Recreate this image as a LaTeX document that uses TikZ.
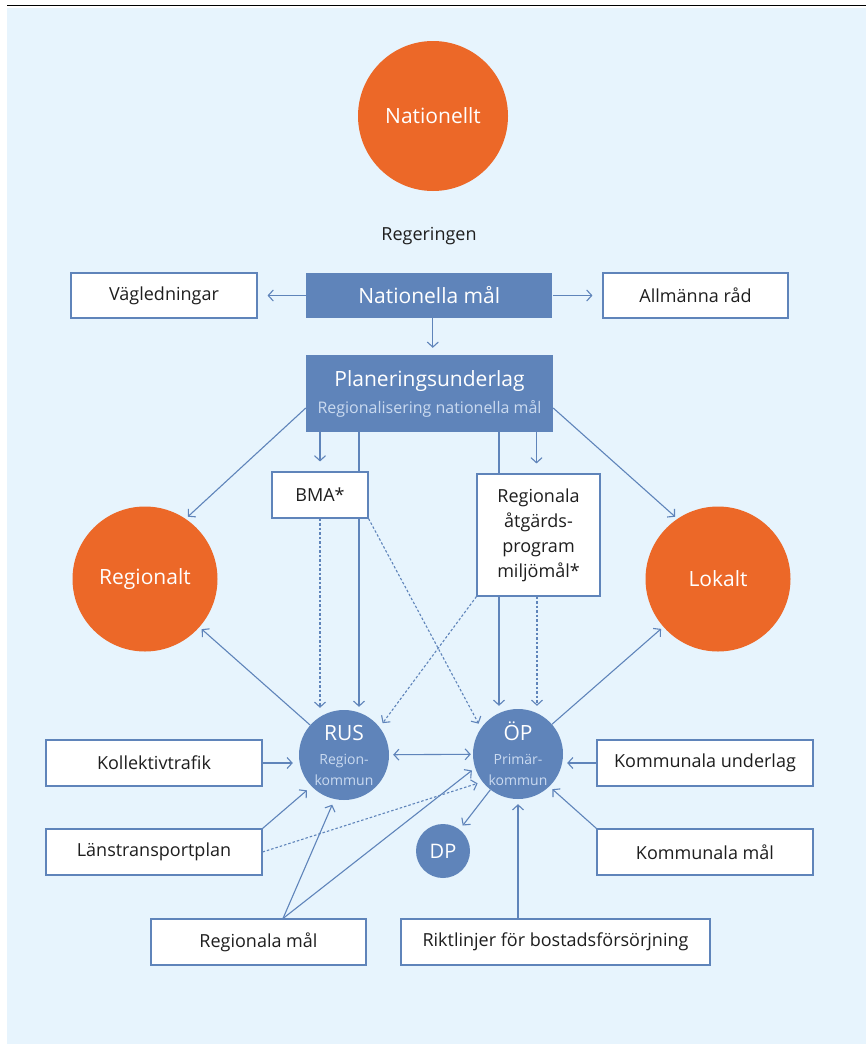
\documentclass[tikz,border=0pt]{standalone}
\usepackage{fontspec}
\setmainfont{Open Sans}
\usetikzlibrary{arrows.meta}
\definecolor{bl}{HTML}{5F84BA}
\definecolor{bglt}{HTML}{E7F4FD}
\definecolor{org}{HTML}{EC6828}
\definecolor{ltxt}{HTML}{CADAF0}
\definecolor{txt}{HTML}{1E1E1E}
\begin{document}
\begin{tikzpicture}[x=1pt,y=-1pt,
  wbox/.style={draw=bl, fill=white, line width=1.1pt, inner sep=0pt, text=txt, font=\fontsize{18}{25}\selectfont, align=center},
  bbox/.style={fill=bl, inner sep=0pt, text=white, align=center},
  orc/.style={circle, fill=org, inner sep=0pt, text=white, font=\fontsize{21}{25}\selectfont},
  blc/.style={circle, fill=bl, inner sep=0pt, text=white, align=center},
  con/.style={draw=bl, line width=1.1pt},
  arr/.style={con, -{Straight Barb[length=5pt,width=11pt]}},
  dot/.style={dash pattern=on 2.5pt off 2pt},
]
\useasboundingbox (0,0) rectangle (866,1044);
\fill[bglt] (7,8) rectangle (866,1044);
\draw[line width=1.6pt] (7,5.5) -- (866,5.5);

% nodes
\node[orc, minimum size=150pt] (nat) at (433,116) {Nationellt};
\node[text=txt, font=\fontsize{18}{22}\selectfont] (reg) at (429,236) {Regeringen};
\node[bbox, minimum width=246pt, minimum height=45pt, font=\fontsize{21}{25}\selectfont] (nmal) at (429.3,295.5) {Nationella mål};
\node[wbox, minimum width=186pt, minimum height=45pt] (vag) at (164,295.5) {Vägledningar};
\node[wbox, minimum width=185pt, minimum height=45pt] (allm) at (695.5,295.5) {Allmänna råd};
\node[bbox, minimum width=247pt, minimum height=77pt, font=\fontsize{16}{27}\selectfont] (plan) at (429.5,393.5)
  {{\fontsize{21}{27}\selectfont Planeringsunderlag}\\{\color{ltxt}Regionalisering nationella mål}};

\node[orc, minimum size=145pt] (regionalt) at (145,579) {Regionalt};
\node[orc, minimum size=145pt] (lokalt) at (718,579) {Lokalt};

\node[blc, minimum size=90pt, font=\fontsize{14}{21}\selectfont] (rus) at (344,755)
  {{\fontsize{21}{21}\selectfont RUS}\\[3pt]{\color{ltxt}Region-}\\{\color{ltxt}kommun}};
\node[blc, minimum size=90pt, font=\fontsize{14}{21}\selectfont] (op) at (518,754)
  {{\fontsize{21}{21}\selectfont ÖP}\\[3pt]{\color{ltxt}Primär-}\\{\color{ltxt}kommun}};
\node[blc, minimum size=54pt, font=\fontsize{20}{24}\selectfont] (dp) at (443,851) {DP};

% connectors that pass behind boxes
\coordinate (rusin) at ([xshift=15pt]rus.north);
\coordinate (opin) at ([xshift=-19pt]op.north);
\coordinate (opin2) at ([xshift=19pt]op.north);
\draw[arr, shorten >=3pt] (rusin |- plan.south) -- (rusin);
\draw[arr, shorten >=3pt] (opin |- plan.south) -- (opin);

\node[wbox, minimum width=96pt, minimum height=46pt] (bma) at (320,495) {BMA*};
\node[wbox, minimum width=123pt, minimum height=122pt] (atg) at (538.5,535) {Regionala\\åtgärds-\\program\\miljömål*};

\node[wbox, minimum width=216pt, minimum height=46pt] (koll) at (154,763) {Kollektivtrafik};
\node[wbox, minimum width=216pt, minimum height=46pt] (lans) at (154,852) {Länstransportplan};
\node[wbox, minimum width=215pt, minimum height=46pt] (regmal) at (258.5,942) {Regionala mål};
\node[wbox, minimum width=309pt, minimum height=46pt] (rikt) at (555.5,942) {Riktlinjer för bostadsförsörjning};
\node[wbox, minimum width=216pt, minimum height=46pt] (kund) at (705,763) {Kommunala underlag};
\node[wbox, minimum width=216pt, minimum height=46pt] (kmal) at (705,852) {Kommunala mål};

% top connectors
\draw[arr, shorten >=10pt] (nmal.west) -- (vag.east);
\draw[arr, shorten >=10pt] (nmal.east) -- (allm.west);
\coordinate (ndown) at ([xshift=3.5pt]nmal.south);
\draw[arr, shorten >=7pt] (ndown) -- (ndown |- plan.north);
\draw[arr, shorten >=3pt] ([yshift=-14.5pt]plan.west) -- (regionalt.56);
\draw[arr, shorten >=3pt] ([yshift=-14.5pt]plan.east) -- (lokalt.124);
\draw[arr, shorten >=10pt] (bma.north |- plan.south) -- (bma.north);
\coordinate (atgin) at ([xshift=-2pt]atg.north);
\draw[arr, shorten >=10pt] (atgin |- plan.south) -- (atgin);

% dotted
\draw[arr, dot, shorten >=2pt] (bma.south) -- (bma.south |- rus.north);
\draw[arr, dot, shorten >=5pt] (bma.south east) -- (op.145);
\draw[arr, dot, shorten >=3pt] (atg.south -| opin2) -- (opin2);
\draw[arr, dot, shorten >=5pt] (atg.south west) -- (rus.38);
\draw[arr, dot, shorten >=5pt] (lans.east) -- (op.218);

% circles
\draw[arr, shorten >=3pt] (rus) -- (regionalt);
\draw[arr, shorten >=3pt] (op) -- (lokalt);
\draw[con, {Straight Barb[length=5pt,width=11pt]}-{Straight Barb[length=5pt,width=11pt]}, shorten >=2pt, shorten <=4pt] (rus) -- (op);
\draw[arr, shorten >=5pt] (op) -- (dp);

% bottom/left/right
\draw[arr, shorten >=6pt] (koll.east) -- (koll.east -| rus.west);
\draw[arr, shorten >=6pt] (lans.north east) -- (rus.224);
\coordinate (rmtop) at ([xshift=24.5pt]regmal.north);
\draw[arr, shorten >=6pt] (rmtop) -- (rus.258);
\draw[arr, shorten >=4pt] (rmtop) -- (op.198);
\draw[arr, shorten >=5pt] (rikt.north -| op.south) -- (op.south);
\draw[arr, shorten >=4pt] (kund.west) -- (kund.west -| op.east);
\draw[arr, shorten >=4pt] (kmal.north west) -- (op.314);
\end{tikzpicture}
\end{document}
